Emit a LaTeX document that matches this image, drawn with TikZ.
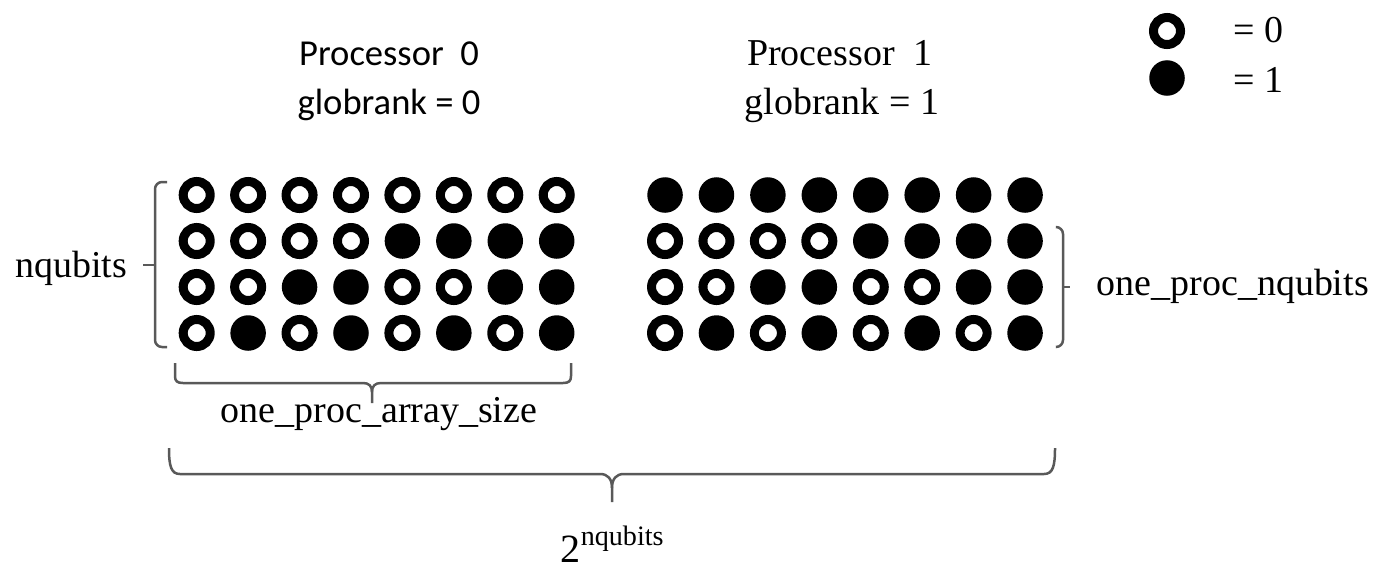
\documentclass[tikz,border=0pt]{standalone}
\usepackage{fontspec}
\setmainfont{Liberation Serif}
\newfontfamily\calibri{Carlito}
\usetikzlibrary{positioning}

\tikzset{
  bit0/.style={circle, draw=black, line width=0.09cm, minimum size=0.27cm, inner sep=0pt},
  bit1/.style={circle, fill=black, minimum size=0.355cm, inner sep=0pt},
  brk/.style={draw=black!65, line width=0.025cm},
  txt/.style={font=\fontsize{10.8}{13}\selectfont, inner sep=0pt},
  calib/.style={font=\calibri\fontsize{10.4}{12.5}\selectfont, inner sep=0pt},
}

\begin{document}
\begin{tikzpicture}[x=0.01cm, y=-0.01cm]
    \useasboundingbox (0,0) rectangle (1373,566);
    % qubit states of both processors
    \foreach \c in {0,...,15} {
      \foreach \r in {0,...,3} {
        \pgfmathtruncatemacro{\b}{mod(floor(\c/2^(3-\r)),2)}
        \pgfmathsetmacro{\x}{196.7+51.43*\c+56.9*(\c>7)}
        \pgfmathsetmacro{\y}{195+46*\r}
        \node[bit\b] (q\c-\r) at (\x,\y) {};
      }
    }

    % titles
    \node[calib, anchor=base] (proc0) at (389,65) {Processor\ \ 0};
    \node[calib, anchor=base] (rank0) at (389,114) {globrank = 0};
    \node[txt, anchor=base] (proc1) at (840,65) {Processor\ \ 1};
    \node[txt, anchor=base] (rank1) at (842,114) {globrank = 1};

    % legend
    \node[bit0] (key0) at (1167,31) {};
    \node[bit1] (key1) at (1167,78) {};
    \node[txt, anchor=base west] (val0) at (1233,42) {= 0};
    \node[txt, anchor=base west] (val1) at (1233,92) {= 1};

    % nqubits bracket
    \draw[brk, rounded corners=2] (167,182) -- (155,182) -- (155,347) -- (167,347);
    \draw[brk] (155,265) -- (143,265);
    \node[txt, anchor=base east] (nq) at (128,277) {nqubits};

    % one_proc_nqubits bracket
    \draw[brk, rounded corners=2] (1056,227) -- (1063,227) -- (1063,347) -- (1056,347);
    \draw[brk] (1063,287) -- (1070,287);
    \node[txt, anchor=base west] (opnq) at (1096,295) {one\_proc\_nqubits};

    % one_proc_array_size brace
    \draw[brk] (175,363) -- (175,376) .. controls (175,381) and (177,383) .. (183,383)
      -- (363,383) .. controls (369,383) and (372,386) .. (372,392) -- (372,403);
    \draw[brk] (372,392) .. controls (372,386) and (375,383) .. (381,383)
      -- (563,383) .. controls (569,383) and (571,381) .. (571,376) -- (571,363);
    \node[txt, anchor=base] (opas) at (379,422) {one\_proc\_array\_size};

    % 2^nqubits brace
    \draw[brk] (169,448) .. controls (169,466) and (171,474) .. (180,474)
      -- (600,474) .. controls (608,474) and (612,479) .. (612,488) -- (612,502);
    \draw[brk] (612,488) .. controls (612,479) and (616,474) .. (624,474)
      -- (1044,474) .. controls (1053,474) and (1055,466) .. (1055,448);
    \node[txt, anchor=base west, font=\fontsize{11.4}{13}\selectfont] (tot) at (560,562)
      {2\raisebox{4.6pt}{\fontsize{8}{9}\selectfont nqubits}};
\end{tikzpicture}
\end{document}
